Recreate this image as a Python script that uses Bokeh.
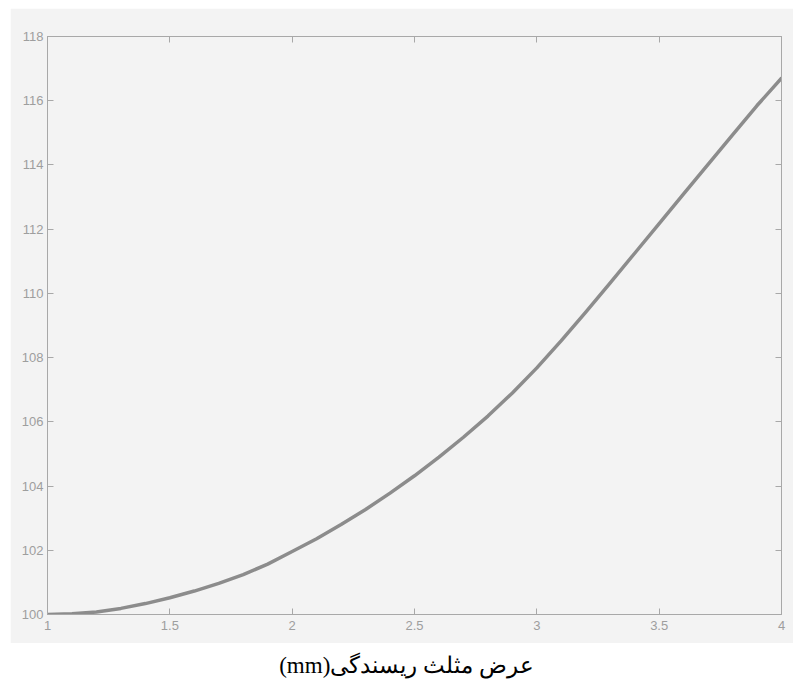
from bokeh.plotting import figure
from bokeh.models import Range1d, FixedTicker, LinearAxis, Label
from bokeh.layouts import column
from bokeh.embed import file_html
from bokeh.resources import INLINE

# Data
x_vals = [1.0, 1.1, 1.2, 1.3, 1.4, 1.5, 1.6, 1.7, 1.8, 1.9, 2.0,
          2.1, 2.2, 2.3, 2.4, 2.5, 2.6, 2.7, 2.8, 2.9, 3.0,
          3.1, 3.2, 3.3, 3.4, 3.5, 3.6, 3.7, 3.8, 3.9, 4.0]
y_vals = [100.0, 100.02, 100.08, 100.19, 100.34, 100.52, 100.73, 100.97, 101.24, 101.57, 101.96,
          102.36, 102.80, 103.27, 103.78, 104.32, 104.90, 105.52, 106.18, 106.90, 107.68,
          108.53, 109.42, 110.33, 111.25, 112.17, 113.10, 114.02, 114.94, 115.85, 116.70]

x_ticks = [1, 1.5, 2, 2.5, 3, 3.5, 4]
x_tick_labels = ["1", "1.5", "2", "2.5", "3", "3.5", "4"]
y_ticks = [100, 102, 104, 106, 108, 110, 112, 114, 116, 118]
y_tick_labels = ["100", "102", "104", "106", "108", "110", "112", "114", "116", "118"]

x_label = "(mm)عرض مثلث ریسندگی"

BG = "#f3f3f3"
AXC = "#a8a8a8"
TXT = "#9e9e9e"

p = figure(width=783, height=635, output_backend="svg", toolbar_location=None,
           x_range=Range1d(1, 4), y_range=Range1d(100, 118),
           background_fill_color=BG, border_fill_color=BG,
           min_border_left=37, min_border_right=12, min_border_top=28, min_border_bottom=29)
p.margin = (8, 0, 0, 10)
p.grid.visible = False
p.outline_line_color = AXC

p.line(x_vals, y_vals, line_color="#8c8c8c", line_width=3.5, line_join="round", line_cap="round")

def style(ax, ticks, labels, show):
    ax.ticker = FixedTicker(ticks=ticks)
    ax.major_label_overrides = {t: l for t, l in zip(ticks, labels)}
    ax.axis_line_color = AXC
    ax.major_tick_line_color = AXC
    ax.major_tick_in = 6
    ax.major_tick_out = 0
    ax.minor_tick_line_color = None
    ax.major_label_text_font = "Liberation Sans"
    if show:
        ax.major_label_text_color = TXT
        ax.major_label_text_font_size = "13px"
    else:
        ax.major_label_text_color = None
        ax.major_label_text_font_size = "1px"
        ax.major_label_standoff = 0

style(p.xaxis[0], x_ticks, x_tick_labels, True)
style(p.yaxis[0], y_ticks, y_tick_labels, True)
p.xaxis[0].major_label_standoff = 6
p.yaxis[0].major_label_standoff = 4

top = LinearAxis()
style(top, x_ticks, x_tick_labels, False)
p.add_layout(top, "above")
right = LinearAxis()
style(right, y_ticks, y_tick_labels, False)
p.add_layout(right, "right")

q = figure(width=793, height=38, output_backend="svg", toolbar_location=None,
           x_range=Range1d(0, 1), y_range=Range1d(0, 1),
           background_fill_color="white", border_fill_color="white",
           min_border=0)
q.axis.visible = False
q.grid.visible = False
q.outline_line_color = None
q.add_layout(Label(x=369, y=16, x_units="screen", y_units="screen", text=x_label,
                   text_align="center", text_baseline="middle",
                   text_font="Liberation Serif", text_font_size="23px", text_color="black"))

layout = column(p, q, spacing=0)
open("out.html", "w").write(file_html(layout, INLINE))
